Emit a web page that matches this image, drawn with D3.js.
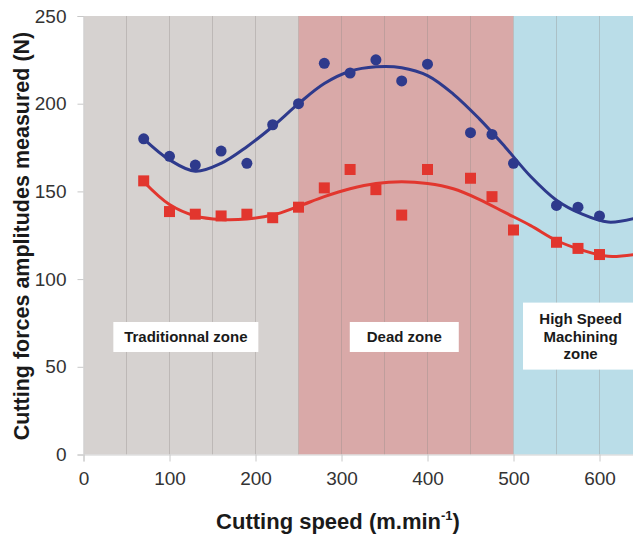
<!DOCTYPE html>
<html><head><meta charset="utf-8">
<script src="https://cdn.jsdelivr.net/npm/d3@7"></script>
<style>body{margin:0;background:#fff}svg{display:block}</style>
</head><body>
<svg id="chart" width="633" height="538"></svg>
<script>
// ---- data: measured points ----
const speeds     = [70,100,130,160,190,220,250,280,310,340,370,400,450,475,500,550,575,600];
const blueForce  = [180,170,165,173,166,188,200,223,217.5,225,213,222.5,183.5,182.5,166,142,141,136];
const redForce   = [156,138.5,137,136,137,135,141,152,162.5,151,136.5,162.5,157.5,147,128,121,117.5,114];
// ---- data: trend curves ----
const trendSpeeds = [70,100,130,160,190,220,250,280,310,340,370,400,430,460,490,520,550,580,610,640];
const blueTrend   = [180,168,161.5,166,175.5,187,200,211.5,218.5,221,220.5,216,205.5,191.5,175.5,158.5,145,137,132.5,134.5];
const redTrend    = [155.5,142.5,136,134,134.3,136.5,141.5,147,151.5,154.5,155.5,154.5,151.5,145.5,138,130.5,122,116.5,113,114];
// ---- zones and ticks ----
const zoneNames  = ["Traditionnal zone","Dead zone","High Speed Machining zone"];
const zoneStarts = [0,250,500];
const zoneEnds   = [250,500,650];
const zoneColors = ["#d6d2d0","#d9a9a8","#badde8"];
const xTicks = [0,100,200,300,400,500,600];
const yTicks = [0,50,100,150,200,250];
const gridValues = [50,100,150,200,250,300,350,400,450,500,550,600,650];

const svg = d3.select("#chart");
const x = d3.scaleLinear().domain([0,650]).range([83.5, 83.5+650*0.86]);
const y = d3.scaleLinear().domain([0,250]).range([454.5, 16]);
const plotTop = y(250), plotBottom = y(0), plotLeft = x(0);

// zones
svg.append("g").selectAll("rect").data(zoneNames).join("rect")
  .attr("x",(d,i)=>x(zoneStarts[i]))
  .attr("width",(d,i)=>x(zoneEnds[i])-x(zoneStarts[i]))
  .attr("y",plotTop).attr("height",plotBottom-plotTop)
  .attr("fill",(d,i)=>zoneColors[i]);

// vertical grid
svg.append("g").selectAll("line").data(gridValues).join("line")
  .attr("x1",d=>x(d)).attr("x2",d=>x(d))
  .attr("y1",plotTop).attr("y2",plotBottom)
  .attr("stroke","#8f8a88").attr("stroke-opacity",0.35).attr("stroke-width",1);

const font = "'Liberation Sans',Arial,sans-serif";
// axes
const xAxis = d3.axisBottom(x).tickValues(xTicks).tickSize(7).tickPadding(10).tickFormat(d3.format("d"));
const yAxis = d3.axisLeft(y).tickValues(yTicks).tickSize(6).tickPadding(8).tickFormat(d3.format("d"));
const gx = svg.append("g").attr("transform",`translate(0,${plotBottom})`).call(xAxis);
const gy = svg.append("g").attr("transform",`translate(${plotLeft},0)`).call(yAxis);
[gx,gy].forEach(g=>{
  g.select(".domain").attr("stroke","#d0d0d0");
  g.selectAll(".tick line").attr("stroke","#c8c8c8");
  g.selectAll(".tick text").attr("fill","#333").style("font-family",font).style("font-size","19px");
});
gy.selectAll(".tick text").attr("dx",-3);

// trend curves
const trendLine = vals => d3.line()
  .x((d,i)=>x(trendSpeeds[i])).y((d,i)=>y(vals[i]))
  .curve(d3.curveCatmullRom.alpha(0.5))(vals);
svg.append("path").attr("d",trendLine(redTrend)).attr("fill","none")
  .attr("stroke","#e2362e").attr("stroke-width",3);
svg.append("path").attr("d",trendLine(blueTrend)).attr("fill","none")
  .attr("stroke","#2e3a8c").attr("stroke-width",3);

// points
svg.append("g").selectAll("rect").data(speeds).join("rect")
  .attr("x",(d)=>x(d)-5.5).attr("y",(d,i)=>y(redForce[i])-5.5)
  .attr("width",11).attr("height",11).attr("fill","#e2362e");
svg.append("g").selectAll("circle").data(speeds).join("circle")
  .attr("cx",d=>x(d)).attr("cy",(d,i)=>y(blueForce[i])).attr("r",5.5).attr("fill","#2e3a8c");

// zone labels
function label(lines, cxData, cyData, w, h, textCx){
  const cx = x(cxData), cy = y(cyData);
  svg.append("rect").attr("x",cx-w/2).attr("y",cy-h/2).attr("width",w).attr("height",h).attr("fill","#fff");
  const t = svg.append("text").attr("text-anchor","middle").style("font-family",font)
    .style("font-weight","bold").style("font-size","15px").attr("fill","#1a1a1a");
  const lh = 17.5, y0 = cy - (lines.length-1)*lh/2 + 5.5;
  lines.forEach((s,i)=>t.append("tspan").attr("x",textCx!==undefined?x(textCx):cx).attr("y",y0+i*lh).text(s));
}
label(["Traditionnal zone"], 119, 67, 145, 30);
label(["Dead zone"], 373, 67, 109, 30);
label(["High Speed","Machining","zone"], 582, 67.5, 122, 67, 578);

// titles
svg.append("text").attr("x",338).attr("y",529).attr("text-anchor","middle")
  .style("font-family",font).style("font-weight","bold").style("font-size","22px").attr("fill","#1a1a1a")
  .call(t=>{ t.append("tspan").text("Cutting speed (m.min");
             t.append("tspan").attr("dy",-9).style("font-size","13px").text("-1");
             t.append("tspan").attr("dy",9).text(")"); });
svg.append("text").attr("transform","translate(29,236) rotate(-90)").attr("text-anchor","middle")
  .style("font-family",font).style("font-weight","bold").style("font-size","21.5px").attr("fill","#1a1a1a")
  .text("Cutting forces amplitudes measured (N)");
</script>
</body></html>
